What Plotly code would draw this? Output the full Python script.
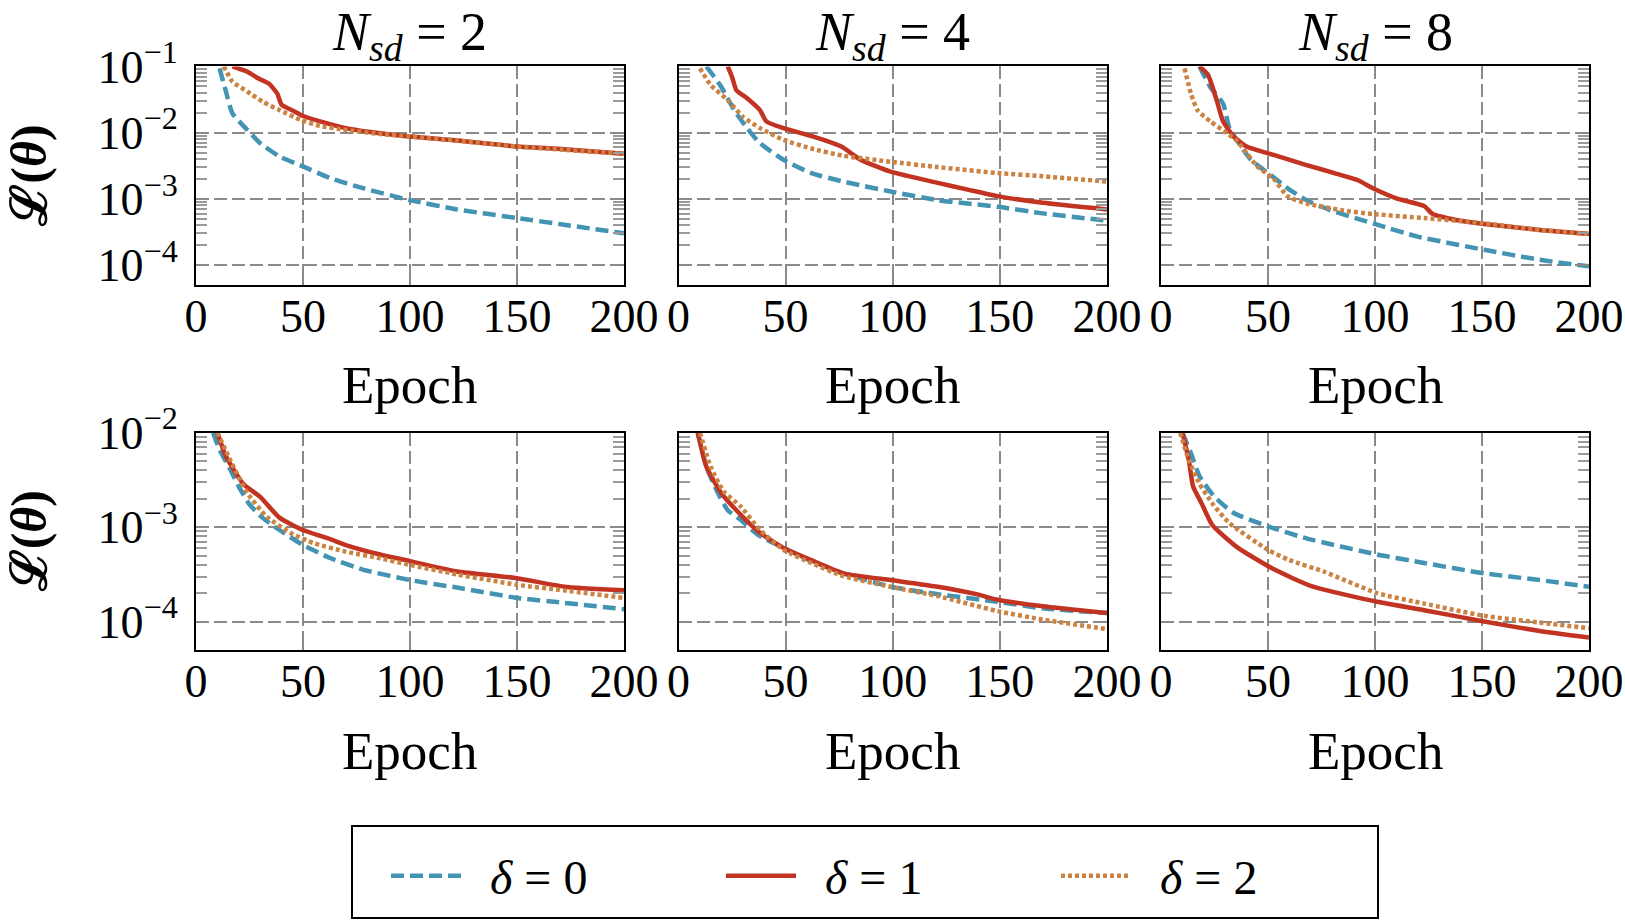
import math
import plotly.graph_objects as go

# ---------------- data ----------------
# Top row
ep_top_n2_d0 = [11, 14, 17, 24, 30, 39, 50, 63, 78, 100, 122, 150, 172, 200]
loss_top_n2_d0 = [9.33e-2, 4.17e-2, 1.95e-2, 1.10e-2, 6.92e-3, 4.37e-3, 3.09e-3, 2.04e-3, 1.45e-3, 9.55e-4, 6.92e-4, 5.13e-4, 4.07e-4, 3.02e-4]
ep_top_n2_d1 = [17, 24, 29, 34, 38, 40, 46, 50, 58, 70, 86, 100, 122, 150, 172, 200]
loss_top_n2_d1 = [1.0e-1, 8.32e-2, 6.61e-2, 5.50e-2, 3.89e-2, 2.63e-2, 2.09e-2, 1.78e-2, 1.48e-2, 1.17e-2, 9.77e-3, 8.71e-3, 7.59e-3, 6.17e-3, 5.62e-3, 4.79e-3]
ep_top_n2_d2 = [13, 17, 24, 31, 39, 49, 58, 70, 86, 100, 122, 150, 172, 200]
loss_top_n2_d2 = [1.0e-1, 5.89e-2, 4.17e-2, 2.95e-2, 2.19e-2, 1.55e-2, 1.26e-2, 1.10e-2, 9.55e-3, 8.71e-3, 7.59e-3, 6.17e-3, 5.50e-3, 4.79e-3]

ep_top_n4_d0 = [13, 20, 26, 32, 38, 49, 62, 77, 99, 121, 149, 170, 200]
loss_top_n4_d0 = [1.0e-1, 4.90e-2, 2.19e-2, 1.17e-2, 6.92e-3, 3.89e-3, 2.45e-3, 1.82e-3, 1.29e-3, 9.55e-4, 7.59e-4, 6.03e-4, 4.68e-4]
ep_top_n4_d1 = [23, 25, 27, 32, 38, 41, 49, 63, 76, 85, 99, 121, 135, 149, 170, 200]
loss_top_n4_d1 = [1.0e-1, 6.92e-2, 4.37e-2, 3.31e-2, 2.19e-2, 1.48e-2, 1.17e-2, 8.71e-3, 6.17e-3, 3.89e-3, 2.57e-3, 1.74e-3, 1.38e-3, 1.10e-3, 8.71e-4, 6.92e-4]
ep_top_n4_d2 = [10, 15, 23, 30, 38, 49, 62, 77, 99, 121, 149, 170, 200]
loss_top_n4_d2 = [9.33e-2, 5.25e-2, 3.09e-2, 1.74e-2, 1.17e-2, 7.76e-3, 5.75e-3, 4.47e-3, 3.63e-3, 3.02e-3, 2.45e-3, 2.19e-3, 1.82e-3]

ep_top_n8_d0 = [18, 23, 29, 32, 37, 42, 50, 60, 68, 79, 101, 120, 151, 177, 200]
loss_top_n8_d0 = [1.0e-1, 4.90e-2, 2.75e-2, 1.17e-2, 6.46e-3, 3.89e-3, 2.45e-3, 1.38e-3, 9.55e-4, 6.76e-4, 4.07e-4, 2.69e-4, 1.70e-4, 1.20e-4, 9.55e-5]
ep_top_n8_d1 = [18, 22, 26, 29, 34, 40, 53, 68, 81, 92, 99, 110, 123, 127, 138, 151, 177, 200]
loss_top_n8_d1 = [1.0e-1, 7.41e-2, 3.09e-2, 1.48e-2, 8.71e-3, 6.17e-3, 4.57e-3, 3.24e-3, 2.45e-3, 1.91e-3, 1.45e-3, 1.02e-3, 7.76e-4, 5.89e-4, 4.79e-4, 4.17e-4, 3.39e-4, 2.95e-4]
ep_top_n8_d2 = [11, 14, 17, 23, 31, 36, 40, 45, 53, 59, 68, 84, 99, 123, 151, 177, 200]
loss_top_n8_d2 = [9.33e-2, 3.89e-2, 2.19e-2, 1.48e-2, 9.77e-3, 7.24e-3, 4.90e-3, 3.09e-3, 1.95e-3, 1.10e-3, 8.51e-4, 6.76e-4, 5.89e-4, 5.13e-4, 4.27e-4, 3.39e-4, 2.95e-4]

# Bottom row
ep_bot_n2_d0 = [8, 11, 16, 20, 25, 31, 39, 50, 63, 78, 100, 122, 150, 172, 200]
loss_bot_n2_d0 = [1.0e-2, 6.61e-3, 4.07e-3, 2.69e-3, 1.74e-3, 1.26e-3, 9.33e-4, 6.46e-4, 4.68e-4, 3.55e-4, 2.75e-4, 2.29e-4, 1.78e-4, 1.58e-4, 1.35e-4]
ep_bot_n2_d1 = [10, 14, 22, 30, 39, 50, 63, 70, 86, 100, 122, 150, 172, 200]
loss_bot_n2_d1 = [1.0e-2, 5.62e-3, 2.88e-3, 2.09e-3, 1.26e-3, 9.33e-4, 7.41e-4, 6.46e-4, 5.13e-4, 4.37e-4, 3.39e-4, 2.88e-4, 2.34e-4, 2.14e-4]
ep_bot_n2_d2 = [10, 16, 24, 33, 44, 55, 70, 86, 100, 122, 150, 172, 200]
loss_bot_n2_d2 = [1.0e-2, 5.13e-3, 2.29e-3, 1.29e-3, 8.71e-4, 6.76e-4, 5.50e-4, 4.68e-4, 3.98e-4, 3.16e-4, 2.45e-4, 2.14e-4, 1.78e-4]

ep_bot_n4_d0 = [9, 13, 18, 23, 29, 37, 49, 62, 77, 99, 121, 149, 170, 200]
loss_bot_n4_d0 = [1.0e-2, 4.37e-3, 2.40e-3, 1.51e-3, 1.20e-3, 8.32e-4, 6.03e-4, 4.37e-4, 3.24e-4, 2.34e-4, 1.95e-4, 1.62e-4, 1.38e-4, 1.23e-4]
ep_bot_n4_d1 = [9, 13, 20, 27, 38, 49, 62, 77, 99, 121, 139, 149, 170, 200]
loss_bot_n4_d1 = [1.0e-2, 4.37e-3, 2.29e-3, 1.51e-3, 8.71e-4, 6.03e-4, 4.47e-4, 3.24e-4, 2.75e-4, 2.34e-4, 1.95e-4, 1.70e-4, 1.45e-4, 1.23e-4]
ep_bot_n4_d2 = [10, 15, 21, 29, 38, 49, 62, 77, 99, 121, 149, 170, 200]
loss_bot_n4_d2 = [1.0e-2, 4.37e-3, 2.40e-3, 1.66e-3, 9.33e-4, 5.75e-4, 4.17e-4, 3.02e-4, 2.34e-4, 1.86e-4, 1.29e-4, 1.05e-4, 8.32e-5]

ep_bot_n8_d0 = [10, 14, 18, 25, 34, 50, 68, 101, 123, 151, 177, 200]
loss_bot_n8_d0 = [1.0e-2, 6.03e-3, 3.47e-3, 2.09e-3, 1.41e-3, 1.02e-3, 7.59e-4, 5.13e-4, 4.17e-4, 3.24e-4, 2.75e-4, 2.34e-4]
ep_bot_n8_d1 = [10, 13, 15, 19, 24, 36, 53, 71, 101, 123, 151, 177, 200]
loss_bot_n8_d1 = [1.0e-2, 5.13e-3, 2.69e-3, 1.78e-3, 1.05e-3, 6.03e-4, 3.55e-4, 2.34e-4, 1.62e-4, 1.32e-4, 1.0e-4, 7.94e-5, 6.76e-5]
ep_bot_n8_d2 = [9, 13, 18, 24, 32, 50, 60, 76, 101, 123, 151, 177, 200]
loss_bot_n8_d2 = [1.0e-2, 5.13e-3, 2.88e-3, 1.78e-3, 1.10e-3, 5.75e-4, 4.47e-4, 3.39e-4, 2.00e-4, 1.55e-4, 1.15e-4, 9.77e-5, 8.51e-5]

panel_titles = ["<i>N</i><sub><i>sd</i></sub> = 2", "<i>N</i><sub><i>sd</i></sub> = 4", "<i>N</i><sub><i>sd</i></sub> = 8"]
series_names = ["\u00a0\u00a0<i>δ</i> = 0", "\u00a0\u00a0<i>δ</i> = 1", "\u00a0\u00a0<i>δ</i> = 2"]
x_tick_vals = [0, 50, 100, 150, 200]
x_tick_text = ["0", "50", "100", "150", "200"]
top_y_tickvals = [1e-4, 1e-3, 1e-2, 1e-1]
top_y_ticktext = ["10<sup>−4</sup>", "10<sup>−3</sup>", "10<sup>−2</sup>", "10<sup>−1</sup>"]
bot_y_tickvals = [1e-4, 1e-3, 1e-2]
bot_y_ticktext = ["10<sup>−4</sup>", "10<sup>−3</sup>", "10<sup>−2</sup>"]
y_min = 5e-5
top_y_max = 1e-1
bot_y_max = 1e-2

# ---------------- styling ----------------
W, H = 1625, 920
FONT = "Liberation Serif"
colors = ["#4393b3", "#c23321", "#cc8240"]
dashes = ["13px,6px", "solid", "4px,3px"]
LW = 4.5

panels = [
    (ep_top_n2_d0, loss_top_n2_d0, ep_top_n2_d1, loss_top_n2_d1, ep_top_n2_d2, loss_top_n2_d2),
    (ep_top_n4_d0, loss_top_n4_d0, ep_top_n4_d1, loss_top_n4_d1, ep_top_n4_d2, loss_top_n4_d2),
    (ep_top_n8_d0, loss_top_n8_d0, ep_top_n8_d1, loss_top_n8_d1, ep_top_n8_d2, loss_top_n8_d2),
    (ep_bot_n2_d0, loss_bot_n2_d0, ep_bot_n2_d1, loss_bot_n2_d1, ep_bot_n2_d2, loss_bot_n2_d2),
    (ep_bot_n4_d0, loss_bot_n4_d0, ep_bot_n4_d1, loss_bot_n4_d1, ep_bot_n4_d2, loss_bot_n4_d2),
    (ep_bot_n8_d0, loss_bot_n8_d0, ep_bot_n8_d1, loss_bot_n8_d1, ep_bot_n8_d2, loss_bot_n8_d2),
]

x_px = [(196, 624), (678.5, 1107), (1161, 1589)]
y_px = [(66.4, 285), (432.7, 650)]

fig = go.Figure()
for p, data in enumerate(panels):
    ax = "" if p == 0 else str(p + 1)
    for s in range(3):
        fig.add_trace(go.Scatter(
            x=data[2 * s], y=data[2 * s + 1], mode="lines",
            line=dict(color=colors[s], width=LW, dash=dashes[s], shape="spline", smoothing=0.5),
            name=series_names[s], legendgroup=str(s), showlegend=(p == 0),
            xaxis="x" + ax, yaxis="y" + ax,
        ))

layout = dict(
    width=W, height=H, margin=dict(l=0, r=0, t=0, b=0, autoexpand=False),
    paper_bgcolor="white", plot_bgcolor="white",
    font=dict(family=FONT, size=46, color="black"),
    showlegend=True,
    legend=dict(
        orientation="h", x=386 / W, y=1 - 876 / H, xanchor="left", yanchor="middle",
        borderwidth=0, bgcolor="rgba(0,0,0,0)",
        font=dict(family=FONT, size=48), itemwidth=70, entrywidth=250,
        tracegroupgap=0,
    ),
    shapes=[dict(type="rect", xref="paper", yref="paper",
                 x0=352 / W, x1=1378 / W, y0=1 - 918 / H, y1=1 - 826 / H,
                 line=dict(color="black", width=2), fillcolor="rgba(0,0,0,0)", layer="below")],
)

grid = dict(showgrid=True, gridcolor="#8a8a8a", gridwidth=2, griddash="13px,5px")
for p in range(6):
    row, col = divmod(p, 3)
    ax = "" if p == 0 else str(p + 1)
    x0, x1 = x_px[col]
    ytop, ybot = y_px[row]
    top = row == 0
    ymax = top_y_max if top else bot_y_max
    emin, emax = math.log10(y_min), math.log10(ymax)
    minor_vals = [k * 10.0 ** e for e in range(-4, int(round(emax))) for k in range(2, 10)]
    layout["xaxis" + ax] = dict(
        domain=[x0 / W, x1 / W], anchor="y" + ax, range=[0, 200], automargin=False,
        tickmode="array", tickvals=x_tick_vals, ticktext=x_tick_text,
        ticks="inside", ticklen=12, tickcolor="#8a8a8a", tickwidth=1.5,
        showline=True, linecolor="black", linewidth=2, mirror="ticks",
        zeroline=False, tickfont=dict(size=46), ticklabelstandoff=-10,
        **grid,
    )
    layout["yaxis" + ax] = dict(
        domain=[1 - ybot / H, 1 - ytop / H], anchor="x" + ax, type="log",
        range=[emin, emax], automargin=False,
        tickmode="array", tickvals=top_y_tickvals if top else bot_y_tickvals,
        ticktext=top_y_ticktext if top else bot_y_ticktext,
        showticklabels=(col == 0),
        ticks="inside", ticklen=12, tickcolor="#8a8a8a", tickwidth=1.5,
        minor=dict(tickmode="array", tickvals=minor_vals, ticks="inside", ticklen=11,
                   tickcolor="#9a9a9a", tickwidth=1.5, showgrid=False),
        showline=True, linecolor="black", linewidth=2, mirror="ticks",
        zeroline=False, tickfont=dict(size=46), ticklabelstandoff=7,
        **grid,
    )

annotations = []
for col in range(3):
    x0, x1 = x_px[col]
    xc = (x0 + x1) / 2 / W
    annotations.append(dict(text=panel_titles[col], x=xc, y=1.0, xref="paper", yref="paper",
                            xanchor="center", yanchor="top", showarrow=False, font=dict(size=54)))
    for yc in (385, 751):
        annotations.append(dict(text="Epoch", x=xc, y=1 - yc / H, xref="paper", yref="paper",
                                xanchor="center", yanchor="middle", showarrow=False, font=dict(size=53)))
for row in range(2):
    ytop, ybot = y_px[row]
    annotations.append(dict(text="<b>ℒ(<i>θ</i>)</b>", x=29 / W, y=1 - (ytop + ybot) / 2 / H,
                            xref="paper", yref="paper", xanchor="center", yanchor="middle",
                            textangle=-90, showarrow=False, font=dict(size=50)))
layout["annotations"] = annotations

fig.update_layout(**layout)
fig.write_html("out.html")
